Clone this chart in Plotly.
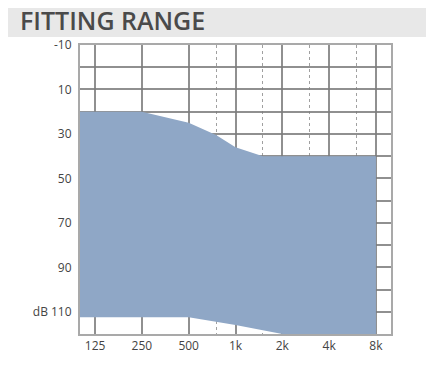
import plotly.graph_objects as go

# Data
freq_upper = [100, 250, 500, 750, 1000, 1500, 8000]
db_upper = [20, 20, 25, 30.5, 36, 40, 40]
freq_lower = [100, 500, 1000, 2000, 8000]
db_lower = [112.5, 112.5, 116, 120, 120]

x_tickvals = [125, 250, 500, 1000, 2000, 4000, 8000]
x_ticktext = ["125", "250", "500", "1k", "2k", "4k", "8k"]
x_minor = [750, 1500, 3000, 6000]

y_tickvals = [-10, 0, 10, 20, 30, 40, 50, 60, 70, 80, 90, 100, 110, 120]
y_ticktext = ["-10", "", "10", "", "30", "", "50", "", "70", "", "90", "", "dB 110", ""]

title_text = "FITTING RANGE"

poly_x = freq_upper + freq_lower[::-1]
poly_y = db_upper + db_lower[::-1]

fig = go.Figure()
fig.add_trace(go.Scatter(
    x=poly_x, y=poly_y, mode="lines", fill="toself",
    fillcolor="#8fa7c6", line=dict(width=0, color="#8fa7c6"),
    hoverinfo="skip", showlegend=False,
))

font_col = "#444444"
fig.update_layout(
    width=434, height=392,
    margin=dict(l=72, r=51, t=37, b=66),
    paper_bgcolor="white", plot_bgcolor="white",
    font=dict(family="Open Sans, sans-serif", size=12, color=font_col),
    showlegend=False,
    xaxis=dict(
        type="log", range=[2, 4],
        tickvals=x_tickvals, ticktext=x_ticktext,
        showgrid=True, gridcolor="rgba(125,125,125,0.85)", gridwidth=1.5,
        minor=dict(tickvals=x_minor, showgrid=True, gridcolor="rgba(150,150,150,0.9)",
                   gridwidth=1, griddash="dot", ticks=""),
        showline=True, mirror=True, linecolor="#a9a9a9", linewidth=2,
        ticks="", zeroline=False, layer="above traces",
        tickfont=dict(size=12, color=font_col),
        automargin=False,
    ),
    yaxis=dict(
        range=[120, -10],
        tickvals=y_tickvals, ticktext=y_ticktext,
        showgrid=True, gridcolor="rgba(125,125,125,0.85)", gridwidth=1.5,
        showline=True, mirror=True, linecolor="#a9a9a9", linewidth=2,
        ticks="", zeroline=False, layer="above traces",
        ticklabelstandoff=4,
        tickfont=dict(size=12, color=font_col),
        automargin=False,
    ),
)

# header band
fig.add_shape(type="rect", xref="paper", yref="paper",
              x0=-0.2508, x1=1.1254, y0=1.0277, y1=1.16,
              fillcolor="#e8e8e8", line=dict(width=0), layer="below")
fig.add_annotation(
    text=title_text, xref="paper", yref="paper",
    x=-0.1994, y=1.086, xanchor="left", yanchor="middle", showarrow=False,
    font=dict(family="Open Sans, sans-serif", size=25, color="#4a4a4a", weight=600),
)

fig.write_html("out.html")
